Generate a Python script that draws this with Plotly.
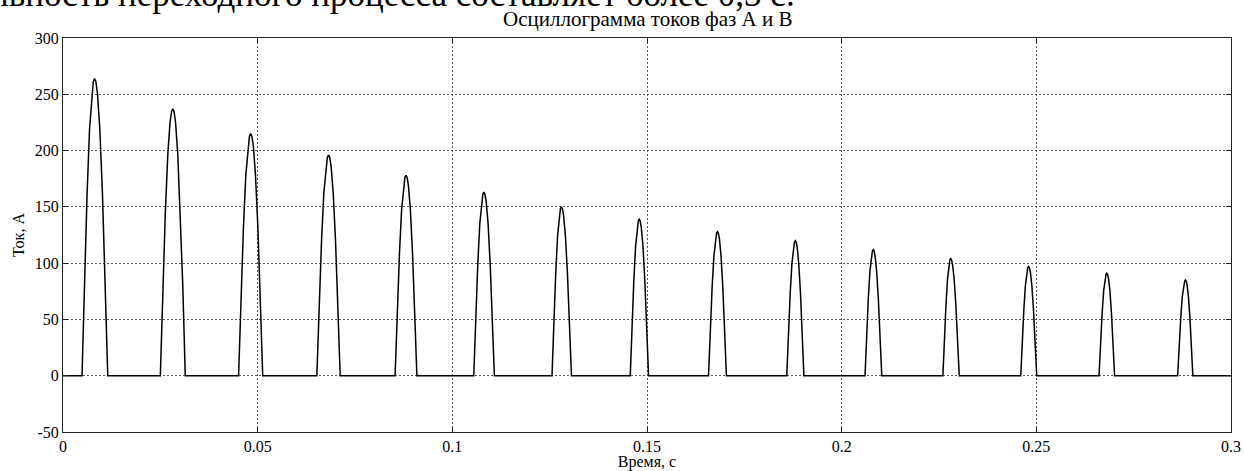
import plotly.graph_objects as go

# ---- data ----
peak_time = [0.0081, 0.0282, 0.0482, 0.0682, 0.0881, 0.1081, 0.1280, 0.1480,
             0.1681, 0.1881, 0.2081, 0.2280, 0.2480, 0.2681, 0.2883]
peak_current = [264, 237, 215, 196, 178, 163, 150, 139, 128, 120, 112, 104, 97, 91, 85]
pulse_start = [0.0049, 0.0250, 0.0451, 0.0652, 0.0853, 0.1055, 0.1256, 0.1457,
               0.1658, 0.1859, 0.2060, 0.2260, 0.2460, 0.2661, 0.2863]
pulse_end = [0.0115, 0.0314, 0.0513, 0.0712, 0.0909, 0.1108, 0.1306, 0.1504,
             0.1704, 0.1903, 0.2103, 0.2302, 0.2501, 0.2701, 0.2902]
# pulse flank profile (fraction of flank duration -> fraction of peak)
shape_frac = [0.0, 0.04, 0.2, 0.4, 0.6, 0.78, 0.9, 1.0]
shape_level = [0.0, 0.07, 0.34, 0.61, 0.83, 0.95, 0.99, 1.0]

t_range = [0, 0.3]
i_range = [-50, 300]
x_ticks = [0, 0.05, 0.1, 0.15, 0.2, 0.25, 0.3]
x_tick_labels = ["0", "0.05", "0.1", "0.15", "0.2", "0.25", "0.3"]
y_ticks = [-50, 0, 50, 100, 150, 200, 250, 300]
y_tick_labels = ["-50", "0", "50", "100", "150", "200", "250", "300"]

title_text = "Осциллограмма токов фаз А и В"
x_title = "Время, с"
y_title = "Ток, А"
doc_text = "ивность переходного процесса составляет более 0,3 с."

# ---- build the trace table ----
t_vals = [t_range[0]]
i_vals = [0]
for ts, tp, te, a in zip(pulse_start, peak_time, pulse_end, peak_current):
    for f, lv in zip(shape_frac, shape_level):
        t_vals.append(ts + f * (tp - ts))
        i_vals.append(lv * a)
    for f, lv in zip(shape_frac[::-1][1:], shape_level[::-1][1:]):
        t_vals.append(tp + (1 - f) * (te - tp))
        i_vals.append(lv * a)
t_vals.append(t_range[1])
i_vals.append(0)

FONT = "Liberation Serif"

fig = go.Figure()
fig.add_trace(go.Scatter(x=t_vals, y=i_vals, mode="lines",
                         line=dict(color="black", width=1.5), showlegend=False))

axis_common = dict(
    automargin=False,
    showline=True, linecolor="#222222", linewidth=1, mirror="ticks",
    ticks="inside", ticklen=5, tickcolor="#222222",
    showgrid=True, gridcolor="#555555", griddash="2px,2px", gridwidth=1,
    zeroline=False, tickfont=dict(family=FONT, size=16, color="black"),
)

fig.update_xaxes(range=t_range, tickvals=x_ticks, ticktext=x_tick_labels,
                 title=dict(text=x_title, font=dict(family=FONT, size=16, color="black"), standoff=0),
                 **axis_common)
fig.update_yaxes(range=i_range, tickvals=y_ticks, ticktext=y_tick_labels,
                 title=dict(text=y_title, font=dict(family=FONT, size=16, color="black"), standoff=6),
                 **axis_common)

fig.update_layout(
    template="none",
    width=1244, height=471,
    margin=dict(l=63, r=13, t=38, b=39),
    paper_bgcolor="white", plot_bgcolor="white",
    font=dict(family=FONT, color="black"),
    showlegend=False,
)

# chart title
fig.add_annotation(text=title_text, xref="paper", yref="paper",
                   x=0.5, y=1.048, xanchor="center", yanchor="middle",
                   showarrow=False, font=dict(family=FONT, size=21, color="black"))

# clipped line of document text above the chart
fig.add_annotation(text=doc_text, xref="paper", yref="paper",
                   x=0.6284, y=1.056, xanchor="right", yanchor="bottom",
                   showarrow=False, font=dict(family=FONT, size=35, color="black"))

fig.write_html("out.html",
               config={"displayModeBar": False},
               post_script="document.body.style.margin='0';document.body.style.overflow='hidden';")
